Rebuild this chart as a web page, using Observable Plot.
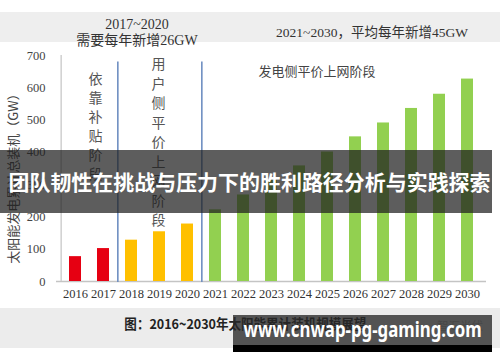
<!DOCTYPE html>
<html><head><meta charset="utf-8">
<script src="https://cdn.jsdelivr.net/npm/d3@7"></script>
<script src="https://cdn.jsdelivr.net/npm/@observablehq/plot@0.6"></script>
<style>
html,body{margin:0;padding:0;background:#fff;}
#wrap{position:relative;width:500px;height:362px;overflow:hidden;background:#fff;font-family:"Noto Sans CJK SC","Noto Sans",sans-serif;}
.abs{position:absolute;}
.ttl{font-family:"Liberation Serif","Noto Sans CJK SC",serif;color:#333;text-align:center;white-space:nowrap;line-height:16px;}
.box{display:flex;justify-content:center;align-items:center;}
.fit{display:inline-block;flex:none;white-space:nowrap;transform-origin:center center;}
</style></head><body>
<div id="wrap">
  <div class="abs" style="left:0;top:12px;width:500px;height:30px;background:#eeeeee"></div>
  <div class="abs" style="left:0;top:308px;width:500px;height:40px;background:#ececec"></div>
  <div id="chart" class="abs" style="left:0;top:0"></div>
  <div id="t1" class="abs ttl" style="left:37px;top:17px;width:200px;font-size:14px"></div>
  <div id="t2" class="abs ttl" style="left:37px;top:33px;width:200px;font-size:14px"></div>
  <div id="t3" class="abs ttl" style="left:242px;top:25px;width:260px;font-size:13.5px"></div>
  <div class="abs box" style="left:100px;top:314px;width:290px;height:18px;font-size:13.5px;font-weight:bold;color:#222;line-height:18px;"><span id="cap" class="fit"></span></div>
  <div id="wm" class="abs" style="left:437px;top:318px;font-size:11.5px;color:#b5b5b5;line-height:15px;white-space:nowrap"></div>
  <div class="abs" style="left:0;top:150px;width:492px;height:63px;background:rgba(30,30,30,0.72)"></div>
  <div class="abs box" style="left:0;top:150px;width:498px;height:63px;line-height:63px;color:#fff;font-weight:bold;font-size:21px;"><span id="b1" class="fit"></span></div>
  <div class="abs" style="left:233px;top:315px;width:259px;height:31px;background:rgba(40,40,40,0.78)"></div>
  <div class="abs" style="left:233px;top:345px;width:259px;height:7px;background:#000"></div>
  <div class="abs box" style="left:233px;top:314px;width:259px;height:31px;line-height:31px;color:#fff;font-weight:bold;font-size:21px;font-family:'Noto Sans',sans-serif;"><span id="b2" class="fit"></span></div>
</div>
<script>
// ---- data ----
const years = ["2016","2017","2018","2019","2020","2021","2022","2023","2024","2025","2026","2027","2028","2029","2030"];
const capacity = [77, 102, 128, 154, 178, 222, 268, 313, 358, 401, 448, 491, 536, 580, 627];
const phaseOfYear = ["补贴","补贴","用户侧","用户侧","用户侧","发电侧","发电侧","发电侧","发电侧","发电侧","发电侧","发电侧","发电侧","发电侧","发电侧"];
const phaseNames = ["补贴","用户侧","发电侧"];
const phaseColors = ["#e60012","#ffc000","#92d050"];
const phaseBoundaryYears = ["2017","2020"];
const yTicks = [0,100,200,300,400,500,600,700];
const labelSubsidy = "依靠补贴阶段";
const labelUser = "用户侧平价上网阶段";
const labelGrid = "发电侧平价上网阶段";
const yLabel = "太阳能发电累计总装机（GW）";
const title1a = "2017~2020";
const title1b = "需要每年新增26GW";
const title2 = "2021~2030，平均每年新增45GW";
const caption = "图：2016~2030年太阳能累计装机规模展望";
const watermark = "智汇光伏";
const banner1 = "团队韧性在挑战与压力下的胜利路径分析与实践探索";
const banner2 = "www.cnwap-pg-gaming.com";

const data = years.map((y,i)=>({year:y, value:capacity[i], phase:phaseOfYear[i]}));

const W=500,H=362,mL=56,mR=14,mT=55,mB=81;
const step=(W-mL-mR)/years.length;
const vert = s => s.split("").join("\n");

const chart = Plot.plot({
  width:W, height:H, marginTop:mT, marginBottom:mB, marginLeft:mL, marginRight:mR,
  style:{background:"transparent", fontFamily:"Liberation Serif, serif", overflow:"visible"},
  x:{domain:years, paddingInner:0.58, paddingOuter:0.29, label:null},
  y:{domain:[0,700], label:null},
  color:{domain:phaseNames, range:phaseColors},
  marks:[
    Plot.ruleY([0], {stroke:"#c4c4c4", strokeWidth:1.5}),
    Plot.ruleX([years[0]], {x:d=>d, dx:-step/2, y1:0, y2:700, stroke:"#cfcfcf", strokeWidth:1.5}),
    Plot.ruleX(phaseBoundaryYears, {x:d=>d, dx:step/2, y1:-3, y2:680, stroke:"#6f8fc2", strokeWidth:1.6}),
    Plot.barY(data, {x:"year", y:"value", fill:"phase"}),
    Plot.axisY({ticks:yTicks, tickSize:0, tickPadding:11, fontSize:12.5, color:"#444", label:null}),
    Plot.axisX({tickSize:0, tickPadding:8, fontSize:12.5, color:"#333", label:null}),
    Plot.text([vert(labelSubsidy)], {x:()=>years[0], dx:20, frameAnchor:"top", dy:15, lineAnchor:"top", lineHeight:1.36, fontSize:14, fill:"#555", fontFamily:"Noto Sans CJK SC"}),
    Plot.text([vert(labelUser)], {x:()=>years[3], dx:-1, frameAnchor:"top", dy:0, lineAnchor:"top", lineHeight:1.39, fontSize:14, fill:"#555", fontFamily:"Noto Sans CJK SC"}),
    Plot.text([labelGrid], {x:()=>years[6], dx:15, frameAnchor:"top", dy:11, lineAnchor:"top", textAnchor:"start", fontSize:13, fill:"#444", fontFamily:"Noto Sans CJK SC"}),
    Plot.text([yLabel], {frameAnchor:"left", textAnchor:"middle", dx:-43, dy:7, rotate:-90, fontSize:13, fill:"#444", fontFamily:"Noto Sans CJK SC"})
  ]
});
document.getElementById("chart").appendChild(chart);
document.getElementById("t1").textContent = title1a;
document.getElementById("t2").textContent = title1b;
document.getElementById("t3").textContent = title2;
document.getElementById("wm").textContent = watermark;
function fit(id, text, target){
  const el = document.getElementById(id);
  el.textContent = text;
  const w = el.getBoundingClientRect().width;
  if (w > 0) el.style.transform = `scaleX(${target / w})`;
}
fit("cap", caption, 242);
fit("b1", banner1, 482);
fit("b2", banner2, 238);
</script>
</body></html>
